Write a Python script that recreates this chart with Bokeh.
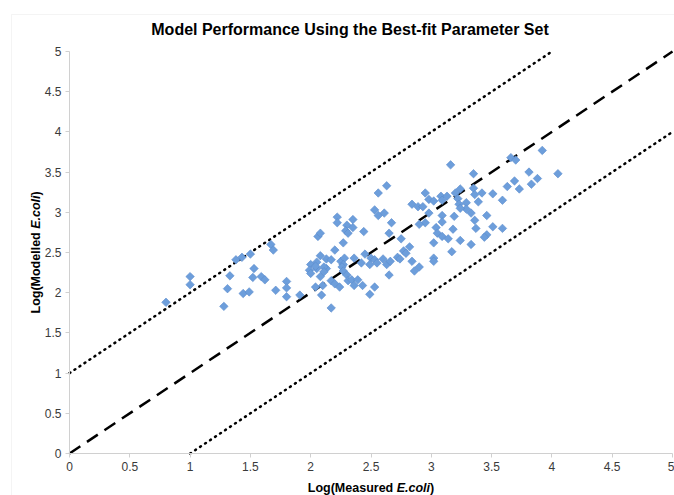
from bokeh.plotting import figure
from bokeh.models import Range1d, FixedTicker, Label, ColumnDataSource, BoxAnnotation
from bokeh.embed import file_html
from bokeh.resources import INLINE

# ---------------- data ----------------
measured = [0.80, 1.00, 1.00, 1.28, 1.31, 1.33, 1.38, 1.43, 1.50, 1.53, 1.52, 1.44, 1.49, 1.59, 1.62,
            1.67, 1.69, 1.71, 1.80, 1.80, 1.80, 1.91, 2.00, 1.99, 2.00, 2.04, 2.05, 2.05, 2.08, 2.08,
            2.10, 2.09, 2.13, 2.13, 2.17, 2.17, 2.06, 2.08, 2.20, 2.17, 2.20, 2.24, 2.22, 2.22, 2.27,
            2.25, 2.28, 2.30, 2.29, 2.31, 2.35, 2.35, 2.36, 2.27, 2.26, 2.27, 2.30, 2.31, 2.34, 2.36,
            2.39, 2.43, 2.44, 2.45, 2.42, 2.49, 2.53, 2.50, 2.49, 2.53, 2.56, 2.56, 2.53, 2.55, 2.04,
            2.11, 2.11, 2.63, 2.61, 2.67, 2.65, 2.75, 2.60, 2.63, 2.66, 2.65, 2.72, 2.74, 2.77, 2.79,
            2.82, 2.84, 2.86, 2.90, 2.95, 2.98, 3.02, 2.84, 2.89, 2.93, 2.98, 2.95, 2.90, 3.02, 3.02,
            3.02, 3.09, 3.09, 3.04, 3.05, 3.09, 3.14, 3.17, 3.18, 3.24, 3.33, 3.16, 3.35, 3.08, 3.13,
            3.09, 3.20, 3.24, 3.35, 3.36, 3.42, 3.39, 3.22, 3.23, 3.29, 3.29, 3.24, 3.19, 3.33, 3.36,
            3.46, 3.37, 3.51, 3.59, 3.46, 3.44, 3.51, 3.59, 3.63, 3.69, 3.73, 3.66, 3.70, 3.81, 3.88,
            3.83, 3.92, 4.05]
modelled = [1.88, 2.20, 2.10, 1.83, 2.05, 2.21, 2.41, 2.44, 2.48, 2.30, 2.19, 1.99, 2.01, 2.20, 2.16,
            2.60, 2.53, 2.03, 2.14, 2.06, 1.95, 1.97, 2.35, 2.28, 2.24, 2.07, 2.30, 2.38, 2.46, 2.20,
            2.09, 1.97, 2.42, 2.30, 2.41, 1.81, 2.70, 2.74, 2.53, 2.15, 2.11, 2.07, 2.94, 2.87, 2.62,
            2.39, 2.43, 2.84, 2.77, 2.74, 2.91, 2.81, 2.43, 2.35, 2.32, 2.27, 2.22, 2.15, 2.16, 2.09,
            2.16, 2.09, 2.76, 2.48, 2.37, 1.98, 2.07, 2.43, 2.35, 3.03, 2.96, 3.24, 2.41, 2.37, 2.33,
            2.32, 2.26, 3.33, 2.99, 2.87, 2.74, 2.67, 2.42, 2.35, 2.39, 2.22, 2.44, 2.42, 2.52, 2.49,
            2.57, 2.39, 2.27, 2.32, 3.24, 3.16, 3.14, 3.10, 3.07, 3.07, 2.99, 2.87, 2.85, 2.62, 2.43,
            2.39, 2.96, 2.88, 2.81, 2.74, 2.70, 2.67, 2.51, 2.79, 2.65, 2.60, 3.59, 3.48, 3.20, 3.20,
            3.15, 3.24, 3.29, 3.30, 3.22, 3.24, 3.13, 3.17, 3.10, 3.12, 3.04, 3.05, 2.95, 2.99, 2.90,
            2.96, 2.80, 2.82, 2.80, 2.72, 2.69, 3.23, 3.15, 3.32, 3.39, 3.29, 3.68, 3.65, 3.50, 3.42,
            3.35, 3.77, 3.48]

# reference lines: 1:1 line and +/- 1 log bands
one_to_one_x = [0, 5]
one_to_one_y = [0, 5]
upper_x = [0, 4]
upper_y = [1, 5]
lower_x = [1, 5]
lower_y = [0, 4]

ticks = [0, 0.5, 1, 1.5, 2, 2.5, 3, 3.5, 4, 4.5, 5]
tick_labels = ["0", "0.5", "1", "1.5", "2", "2.5", "3", "3.5", "4", "4.5", "5"]

title_text = "Model Performance Using the Best-fit Parameter Set"
x_title_parts = ["Log(Measured ", "E.coli", ")"]
y_title_parts = ["Log(Modelled ", "E.coli", ")"]

# ---------------- layout geometry (pixels) ----------------
W, H = 674, 495
PL, PR, PT, PB = 69, 672, 51, 453      # plot-area edges on the canvas
ppx = (PR - PL) / 5.0
ppy = (PB - PT) / 5.0
xr = Range1d(-PL / ppx, 5 + (W - PR) / ppx)
yr = Range1d(-(H - PB) / ppy, 5 + PT / ppy)

p = figure(width=W, height=H, output_backend="svg", toolbar_location=None,
           x_range=xr, y_range=yr, min_border=0,
           min_border_left=0, min_border_right=0, min_border_top=0, min_border_bottom=0)
p.outline_line_color = None
p.background_fill_color = "white"
p.border_fill_color = "white"
p.xgrid.grid_line_color = None
p.ygrid.grid_line_color = None

overrides = {t: s for t, s in zip(ticks, tick_labels)}
for ax in (p.xaxis[0], p.yaxis[0]):
    ax.fixed_location = 0
    ax.bounds = (0, 5)
    ax.ticker = FixedTicker(ticks=ticks)
    ax.major_label_overrides = overrides
    ax.axis_line_color = "#d0d0d0"
    ax.axis_line_width = 1
    ax.major_tick_line_color = "#d0d0d0"
    ax.major_tick_out = 4
    ax.major_tick_in = 0
    ax.minor_tick_line_color = None
    ax.major_label_text_font = "Liberation Sans"
    ax.major_label_text_font_size = "12px"
    ax.major_label_text_color = "#3a3a3a"
    ax.major_label_standoff = 4

# chart-area border
p.add_layout(BoxAnnotation(left=11, right=W + 20, top=H - 14, bottom=-20,
                           left_units="screen", right_units="screen",
                           top_units="screen", bottom_units="screen",
                           fill_color=None, line_color="#d9d9d9", line_width=1))

p.line(one_to_one_x, one_to_one_y, line_color="black", line_width=2.5, line_dash="13 8")
p.line(upper_x, upper_y, line_color="black", line_width=2.5, line_dash="1 5", line_cap="round")
p.line(lower_x, lower_y, line_color="black", line_width=2.5, line_dash="1 5", line_cap="round")

src = ColumnDataSource(dict(x=measured, y=modelled))
p.scatter("x", "y", source=src, marker="square", size=6, angle=0.785398,
          fill_color="#6d9edb", line_color="#5b8ccd", line_width=0.6)

# title
p.add_layout(Label(x=349.5, y=H - 29, x_units="screen", y_units="screen", text=title_text,
                   text_align="center", text_baseline="middle",
                   text_font="Liberation Sans", text_font_style="bold",
                   text_font_size="16px", text_color="black"))

# axis titles composed of bold + bold italic parts
fs = 12.5
styles = ["bold", "bold italic", "bold"]
xs = 307.3
for txt, w, st in zip(x_title_parts, [88.9, 33.35, 4.2], styles):
    p.add_layout(Label(x=xs, y=H - 487, x_units="screen", y_units="screen", text=txt,
                       text_align="left", text_baseline="middle",
                       text_font="Liberation Sans", text_font_style=st,
                       text_font_size=f"{fs}px", text_color="black"))
    xs += w

ys = H - 313
for txt, w, st in zip(y_title_parts, [84.7, 33.35, 4.2], styles):
    p.add_layout(Label(x=35, y=ys, x_units="screen", y_units="screen", text=txt,
                       angle=1.5707963, text_align="left", text_baseline="middle",
                       text_font="Liberation Sans", text_font_style=st,
                       text_font_size=f"{fs}px", text_color="black"))
    ys += w

open("out.html", "w").write(file_html(p, INLINE))
